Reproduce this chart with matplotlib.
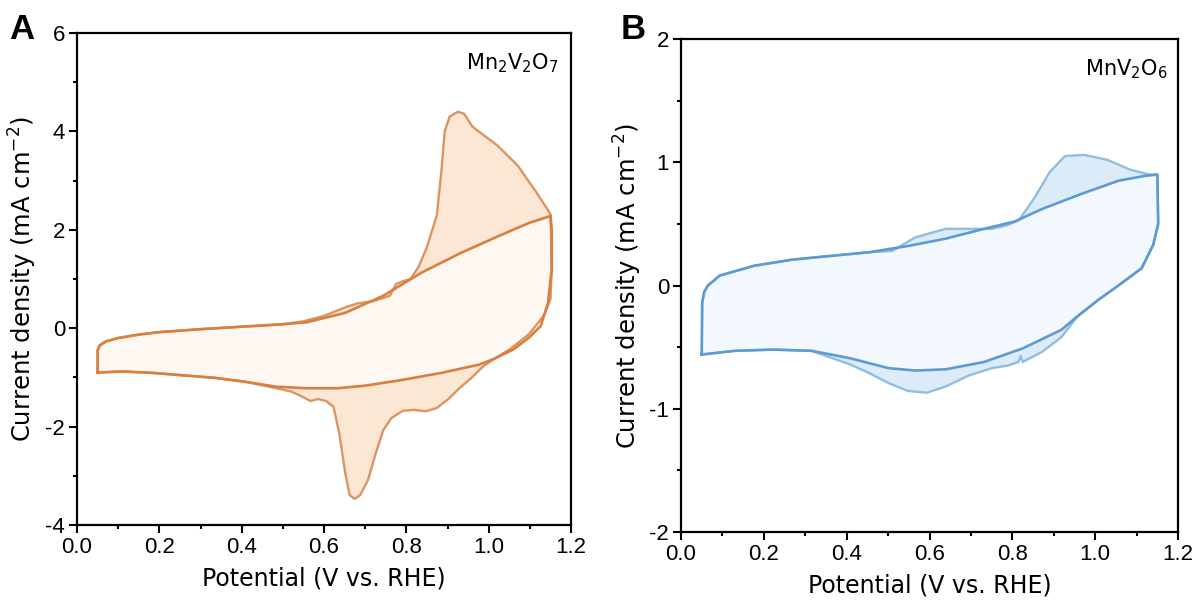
import numpy as np
import matplotlib

matplotlib.use("Agg")
import matplotlib.pyplot as plt
from matplotlib.ticker import MultipleLocator, FormatStrFormatter


# Panel A, Mn2V2O7: inner (background) loop and outer loop with redox peaks
A_INNER_UP_X = [0.05, 0.05, 0.055, 0.07, 0.1, 0.15, 0.2, 0.3, 0.4, 0.5, 0.558, 0.651, 0.744, 0.837, 0.93, 1.023, 1.098, 1.15]
A_INNER_UP_Y = [-0.9, -0.45, -0.35, -0.27, -0.2, -0.13, -0.08, -0.02, 0.03, 0.08, 0.12, 0.31, 0.66, 1.13, 1.52, 1.87, 2.14, 2.28]
A_INNER_DN_X = [1.15, 1.153, 1.153, 1.144, 1.126, 1.098, 1.06, 1.014, 0.977, 0.884, 0.791, 0.698, 0.633, 0.558, 0.484, 0.409, 0.335, 0.26, 0.186, 0.112, 0.05]
A_INNER_DN_Y = [2.28, 2.0, 1.21, 0.51, 0.04, -0.19, -0.43, -0.62, -0.74, -0.91, -1.05, -1.17, -1.22, -1.22, -1.19, -1.09, -1.01, -0.96, -0.91, -0.88, -0.9]

A_OUTER_UP_X = [0.05, 0.05, 0.055, 0.07, 0.1, 0.15, 0.2, 0.3, 0.4, 0.5, 0.55, 0.6, 0.65, 0.68, 0.72, 0.76, 0.775, 0.79, 0.81,
                0.83, 0.85, 0.874, 0.885, 0.893, 0.905, 0.925, 0.94, 0.96, 0.985, 1.02, 1.07, 1.115, 1.15]
A_OUTER_UP_Y = [-0.9, -0.45, -0.35, -0.27, -0.2, -0.13, -0.08, -0.02, 0.03, 0.08, 0.14, 0.25, 0.42, 0.5, 0.55, 0.66, 0.9, 0.95, 1.0,
                1.25, 1.65, 2.3, 3.2, 4.0, 4.3, 4.4, 4.36, 4.1, 3.94, 3.72, 3.31, 2.77, 2.32]
A_OUTER_DN_X = [1.15, 1.153, 1.15, 1.135, 1.098, 1.051, 1.014, 0.986, 0.958, 0.93, 0.902, 0.874, 0.847, 0.819, 0.791, 0.763,
                0.744, 0.726, 0.707, 0.688, 0.674, 0.662, 0.651, 0.637, 0.623, 0.605, 0.586, 0.567, 0.549, 0.521, 0.484,
                0.41, 0.335, 0.26, 0.186, 0.112, 0.05]
A_OUTER_DN_Y = [2.32, 1.2, 0.6, 0.27, -0.12, -0.43, -0.62, -0.78, -1.01, -1.21, -1.44, -1.62, -1.69, -1.66, -1.68, -1.83,
                -2.07, -2.53, -3.08, -3.39, -3.47, -3.39, -2.92, -2.14, -1.6, -1.48, -1.44, -1.48, -1.4, -1.29, -1.22,
                -1.09, -1.01, -0.96, -0.91, -0.88, -0.9]

# Panel B, MnV2O6
B_INNER_UP_X = [0.05, 0.051, 0.056, 0.065, 0.093, 0.176, 0.269, 0.361, 0.454, 0.547, 0.639, 0.732, 0.806, 0.871, 0.964, 1.056, 1.121, 1.15]
B_INNER_UP_Y = [-0.56, -0.14, -0.05, 0.0, 0.08, 0.16, 0.21, 0.24, 0.27, 0.32, 0.38, 0.46, 0.52, 0.62, 0.74, 0.85, 0.89, 0.9]
B_INNER_DN_X = [1.15, 1.152, 1.14, 1.112, 1.056, 1.01, 0.964, 0.918, 0.825, 0.732, 0.639, 0.565, 0.5, 0.408, 0.315, 0.222, 0.13, 0.05]
B_INNER_DN_Y = [0.9, 0.5, 0.33, 0.14, 0.0, -0.11, -0.23, -0.36, -0.51, -0.62, -0.68, -0.69, -0.67, -0.59, -0.53, -0.52, -0.53, -0.56]

B_OUTER_UP_X = [0.05, 0.051, 0.056, 0.065, 0.093, 0.176, 0.269, 0.361, 0.454, 0.51, 0.565, 0.639, 0.695, 0.751, 0.788, 0.816,
                0.853, 0.89, 0.927, 0.973, 1.029, 1.084, 1.131, 1.15]
B_OUTER_UP_Y = [-0.56, -0.14, -0.05, 0.0, 0.08, 0.16, 0.21, 0.24, 0.27, 0.28, 0.39, 0.46, 0.46, 0.46, 0.49, 0.53,
                0.71, 0.92, 1.05, 1.06, 1.02, 0.94, 0.9, 0.9]
B_OUTER_DN_X = [1.15, 1.152, 1.14, 1.112, 1.056, 1.01, 0.955, 0.918, 0.871, 0.825, 0.82, 0.815, 0.788, 0.751, 0.695, 0.639,
                0.593, 0.547, 0.5, 0.454, 0.408, 0.315, 0.222, 0.13, 0.05]
B_OUTER_DN_Y = [0.9, 0.5, 0.33, 0.14, 0.0, -0.11, -0.26, -0.42, -0.54, -0.62, -0.57, -0.62, -0.65, -0.67, -0.73, -0.82,
                -0.87, -0.855, -0.79, -0.71, -0.64, -0.53, -0.52, -0.53, -0.56]

plt.rcParams["font.family"] = ["Liberation Sans", "DejaVu Sans"]
plt.rcParams["mathtext.fontset"] = "dejavusans"
plt.rcParams["axes.unicode_minus"] = False

LABEL_FONT = ["DejaVu Sans"]


def loop(up_x, up_y, dn_x, dn_y):
    return np.concatenate([up_x, dn_x]), np.concatenate([up_y, dn_y])


def draw_panel(ax, inner, outer, line_in, line_out, fill_out, fill_in):
    ox, oy = loop(*outer)
    ix, iy = loop(*inner)
    ax.fill(ox, oy, color=fill_out, lw=0, zorder=1)
    ax.fill(ix, iy, color=fill_in, lw=0, zorder=2)
    ax.plot(ox, oy, color=line_out, lw=1.7, solid_joinstyle="round", zorder=3)
    ax.plot(ix, iy, color=line_in, lw=1.9, solid_joinstyle="round", zorder=4)


def style_axes(ax, ylim, ymajor):
    ax.set_xlim(0, 1.2)
    ax.set_ylim(*ylim)
    ax.xaxis.set_major_locator(MultipleLocator(0.2))
    ax.xaxis.set_minor_locator(MultipleLocator(0.1))
    ax.yaxis.set_major_locator(MultipleLocator(ymajor))
    ax.yaxis.set_minor_locator(MultipleLocator(ymajor / 2))
    ax.xaxis.set_major_formatter(FormatStrFormatter("%.1f"))
    ax.yaxis.set_major_formatter(FormatStrFormatter("%d"))
    ax.tick_params(which="both", direction="out", width=1.5, labelsize=16, top=False, right=False, pad=3)
    ax.tick_params(which="major", length=5.5)
    ax.tick_params(which="minor", length=3)
    for s in ax.spines.values():
        s.set_linewidth(1.6)
    ax.set_xlabel("Potential (V vs. RHE)", fontsize=17, family=LABEL_FONT)
    ax.set_ylabel("Current density (mA cm$^{-2}$)", fontsize=17.5, family=LABEL_FONT)


fig = plt.figure(figsize=(12.02, 6.01), dpi=100)
ax_a = fig.add_axes([0.0641, 0.1265, 0.411, 0.8186])
ax_b = fig.add_axes([0.5666, 0.1148, 0.4135, 0.8203])

draw_panel(
    ax_a,
    (A_INNER_UP_X, A_INNER_UP_Y, A_INNER_DN_X, A_INNER_DN_Y),
    (A_OUTER_UP_X, A_OUTER_UP_Y, A_OUTER_DN_X, A_OUTER_DN_Y),
    "#d97f3f", "#dc9460", "#fce7d4", "#fff8f2",
)
draw_panel(
    ax_b,
    (B_INNER_UP_X, B_INNER_UP_Y, B_INNER_DN_X, B_INNER_DN_Y),
    (B_OUTER_UP_X, B_OUTER_UP_Y, B_OUTER_DN_X, B_OUTER_DN_Y),
    "#5f9bd2", "#8fbde3", "#dbecf8", "#f2f8fd",
)

style_axes(ax_a, (-4, 6), 2)
style_axes(ax_b, (-2, 2), 1)

ax_a.yaxis.set_label_coords(-0.078, 0.5)
ax_a.xaxis.set_label_coords(0.5, -0.085)
ax_b.yaxis.set_label_coords(-0.074, 0.5)
ax_b.xaxis.set_label_coords(0.5, -0.085)

ax_a.text(0.975, 0.962, "Mn$_2$V$_2$O$_7$", transform=ax_a.transAxes, ha="right", va="top",
          fontsize=15, family=LABEL_FONT)
ax_b.text(0.98, 0.962, "MnV$_2$O$_6$", transform=ax_b.transAxes, ha="right", va="top",
          fontsize=15, family=LABEL_FONT)

fig.text(0.008, 0.978, "A", fontsize=25, fontweight="bold", va="top", ha="left")
fig.text(0.516, 0.978, "B", fontsize=25, fontweight="bold", va="top", ha="left")

fig.savefig("out.png", dpi=100)
